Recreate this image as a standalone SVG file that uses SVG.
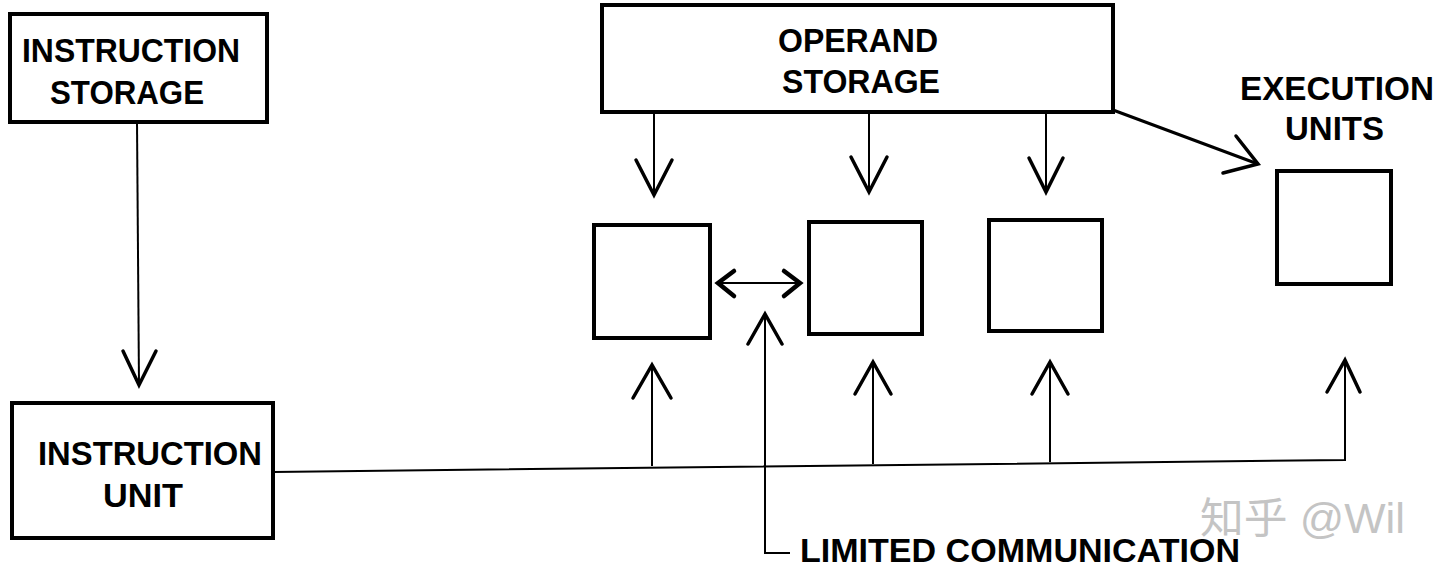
<svg xmlns="http://www.w3.org/2000/svg" width="1440" height="577" viewBox="0 0 1440 577">
<style>
.box{fill:#fff;stroke:#000;stroke-width:4}
.ln{fill:none;stroke:#000;stroke-width:2}
.hd{fill:none;stroke:#000;stroke-width:3.5;stroke-linecap:round;stroke-linejoin:miter}
.t{font-family:"Liberation Sans",Arial,sans-serif;font-weight:bold;font-size:33px;fill:#000}
.wm{font-family:"Liberation Sans","Noto Sans CJK SC",sans-serif;font-size:42px;fill:#c4c4c4}
</style>
<rect width="1440" height="577" fill="#fff"/>
<g id="instruction-storage">
<rect class="box" x="10" y="14" width="257" height="108"/>
<text class="t" x="22" y="62" textLength="218" lengthAdjust="spacingAndGlyphs">INSTRUCTION</text>
<text class="t" x="50" y="104" textLength="154" lengthAdjust="spacingAndGlyphs">STORAGE</text>
</g>
<g id="instruction-unit">
<rect class="box" x="12" y="403" width="261" height="135"/>
<text class="t" x="38" y="465" textLength="224" lengthAdjust="spacingAndGlyphs">INSTRUCTION</text>
<text class="t" x="103" y="507" textLength="80" lengthAdjust="spacingAndGlyphs">UNIT</text>
</g>
<g id="operand-storage">
<rect class="box" x="602" y="5" width="511" height="107"/>
<text class="t" x="778" y="52" textLength="160" lengthAdjust="spacingAndGlyphs">OPERAND</text>
<text class="t" x="782" y="93" textLength="158" lengthAdjust="spacingAndGlyphs">STORAGE</text>
</g>
<g id="execution-units-label">
<text class="t" x="1240" y="100" textLength="194" lengthAdjust="spacingAndGlyphs">EXECUTION</text>
<text class="t" x="1285" y="140" textLength="99" lengthAdjust="spacingAndGlyphs">UNITS</text>
</g>
<g id="exec-unit-1"><rect class="box" x="594" y="225" width="116" height="113"/></g>
<g id="exec-unit-2"><rect class="box" x="809" y="222" width="113" height="112"/></g>
<g id="exec-unit-3"><rect class="box" x="989" y="220" width="113" height="111"/></g>
<g id="exec-unit-4"><rect class="box" x="1277" y="171" width="114" height="113"/></g>
<g id="limited-communication-label">
<text class="t" x="800" y="562" textLength="440" lengthAdjust="spacingAndGlyphs">LIMITED COMMUNICATION</text>
</g>
<g id="watermark">
<text class="wm" x="1200" y="533" textLength="205" lengthAdjust="spacingAndGlyphs">知乎 @Wil</text>
</g>
<g id="connectors">
<line class="ln" x1="137" y1="122" x2="139" y2="385"/>
<polyline class="hd" points="123,351 139,385 156,351"/>
<polyline class="ln" points="273,472 1345,460 1345,362"/>
<polyline class="hd" points="1327,392 1345,360 1360,392"/>
<line class="ln" x1="652" y1="466" x2="652" y2="365"/>
<polyline class="hd" points="633,398 652,365 671,398"/>
<line class="ln" x1="873" y1="464" x2="873" y2="362"/>
<polyline class="hd" points="855,394 873,362 891,394"/>
<line class="ln" x1="1050" y1="462" x2="1050" y2="362"/>
<polyline class="hd" points="1032,394 1050,362 1068,394"/>
<line class="ln" x1="654" y1="112" x2="654" y2="195"/>
<polyline class="hd" points="636,160 654,195 672,160"/>
<line class="ln" x1="869" y1="112" x2="869" y2="192"/>
<polyline class="hd" points="851,157 869,192 887,157"/>
<line class="ln" x1="1046" y1="112" x2="1046" y2="192"/>
<polyline class="hd" points="1029,158 1046,192 1063,158"/>
<line class="ln" x1="1113" y1="110" x2="1258" y2="164" style="stroke-width:3"/>
<polyline class="hd" points="1223,173 1258,164 1236,136"/>
<line class="ln" x1="718" y1="283" x2="800" y2="283"/>
<polyline class="hd" points="734,271 718,283 734,296" style="stroke-width:4.5"/>
<polyline class="hd" points="784,271 800,283 784,296" style="stroke-width:4.5"/>
<polyline class="ln" points="790,553 765,553 765,314"/>
<polyline class="hd" points="748,344 765,314 782,344"/>
</g>
</svg>
